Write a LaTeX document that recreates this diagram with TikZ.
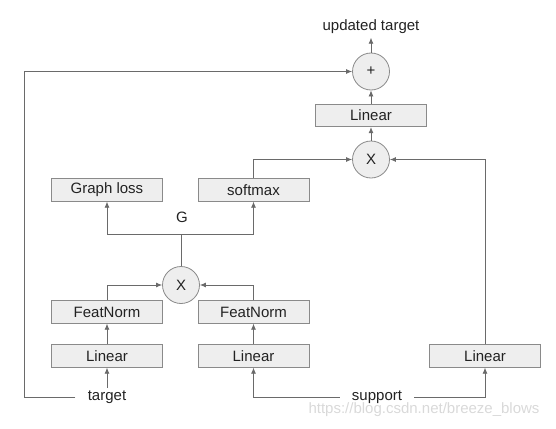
\documentclass[tikz,border=0pt]{standalone}
\usepackage{fontspec}
\setmainfont{Liberation Sans}
\usetikzlibrary{arrows.meta}
\definecolor{boxfill}{HTML}{EEEEEE}
\definecolor{boxline}{HTML}{8A8A8A}
\definecolor{wire}{HTML}{6A6A6A}
\definecolor{ink}{HTML}{222222}
\definecolor{mark}{HTML}{D9D9D9}

\begin{document}
\begin{tikzpicture}[x=1pt, y=-1pt,
    font=\fontsize{15}{18}\selectfont, color=wire, text=ink, line width=0.8pt,
    layer/.style={draw=boxline, fill=boxfill, minimum width=111pt, minimum height=22.5pt, inner sep=0pt},
    op/.style={draw=boxline, fill=boxfill, circle, minimum size=37pt, inner sep=0pt},
    lbl/.style={inner xsep=12pt, inner ysep=2pt},
    >={Latex[length=6pt, width=5pt]}]
            \useasboundingbox (0,0) rectangle (556,428);

            \node[lbl] (tgt) at (107, 397) {target};
            \node[lbl] (sup) at (377, 397) {support};

            \node[layer] (lin1) at (107, 356) {Linear};
            \node[layer] (lin2) at (253.5, 356) {Linear};
            \node[layer] (lin3) at (485, 356) {Linear};

            \node[layer] (fn1) at (107, 312) {FeatNorm};
            \node[layer] (fn2) at (253.5, 312) {FeatNorm};

            \node[op] (xl) at (181, 285) {X};

            %split of G into the loss and the softmax
            \coordinate (g) at (181, 234);
            \node (glbl) at (182, 217) {G};

            \node[layer] (loss) at (107, 190) {Graph loss};
            \node[layer] (soft) at (253.5, 190) {softmax};

            \node[op] (xu) at (371, 159.5) {X};
            \node[layer] (linu) at (371, 115.5) {Linear};
            \node[op] (plus) at (371, 71.5) {+};
            \node (out) at (371, 27) {updated target};

            %skip connection of the target
            \coordinate (skip) at (24, 397);

            \draw[->] (tgt) -- (lin1);
            \draw[->] (sup.west) -| (lin2.south);
            \draw[->] (sup.east) -| (lin3.south);

            \draw[->] (lin1) -- (fn1);
            \draw[->] (lin2) -- (fn2);

            \draw[->] (fn1.north) |- (xl.west);
            \draw[->] (fn2.north) |- (xl.east);

            \draw (xl) -- (g);
            \draw[->] (g) -| (loss.south);
            \draw[->] (g) -| (soft.south);

            \draw[->] (soft.north) |- (xu.west);
            \draw[->] (lin3.north) |- (xu.east);

            \draw[->] (xu) -- (linu);
            \draw[->] (linu) -- (plus);
            \draw[->] (plus) -- (out);

            \draw[->] (tgt.west) -- (skip) |- (plus.west);

            \node[text=mark] (wm) at (424, 410) {https://blog.csdn.net/breeze\_blows};

        \end{tikzpicture}
\end{document}
